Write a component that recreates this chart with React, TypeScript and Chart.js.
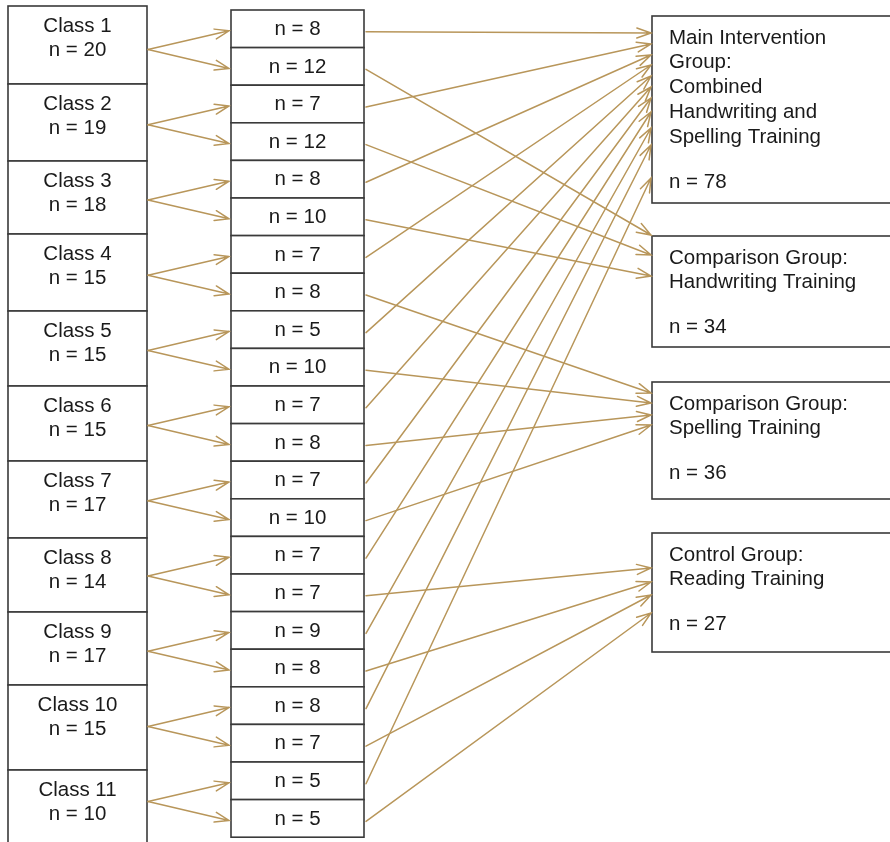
import React, { useEffect, useRef } from 'react';
import { Chart, registerables } from 'chart.js';

Chart.register(...registerables);

// ---------- data ----------
const classLabels = ['Class 1', 'Class 2', 'Class 3', 'Class 4', 'Class 5', 'Class 6', 'Class 7', 'Class 8', 'Class 9', 'Class 10', 'Class 11'];
const classSizes = [20, 19, 18, 15, 15, 15, 17, 14, 17, 15, 10];
const subgroupSizes = [8, 12, 7, 12, 8, 10, 7, 8, 5, 10, 7, 8, 7, 10, 7, 7, 9, 8, 8, 7, 5, 5];
const subgroupTarget = [0, 1, 0, 1, 0, 1, 0, 2, 0, 2, 0, 2, 0, 2, 0, 3, 0, 3, 0, 3, 0, 3];
const groupTitles = [
  ['Main Intervention', 'Group:', 'Combined', 'Handwriting and', 'Spelling Training'],
  ['Comparison Group:', 'Handwriting Training'],
  ['Comparison Group:', 'Spelling Training'],
  ['Control Group:', 'Reading Training'],
];
const groupSizes = [78, 34, 36, 27];

// ---------- layout (reference pixel units) ----------
const W = 890;
const H = 842;
const LEFT_X0 = 8;
const LEFT_X1 = 147;
const classEdges = [6, 84, 161, 234, 311, 386, 461, 538, 612, 685, 770, 850];
const MID_X0 = 231;
const MID_X1 = 364;
const MID_TOP = 10;
const MID_ROW = 37.6;
const RIGHT_X0 = 652;
const RIGHT_X1 = 900;
const groupBoxes = [[16, 203], [236, 347], [382, 499], [533, 652]];
const groupArrowY = [
  [33, 44, 55, 65, 76, 87, 98, 112, 128, 145, 178],
  [235, 255, 276],
  [393, 403, 415, 425],
  [568, 582, 595, 613],
];

const ARROW = '#b8965a';
const BORDER = '#3a3a3a';
const TEXT = '#1a1a1a';
const FONT = '20.5px "Liberation Sans", Arial, sans-serif';

const diagramPlugin = {
  id: 'diagram',
  afterDraw(chart: any) {
    const ctx: CanvasRenderingContext2D = chart.ctx;
    const xs = chart.scales.x;
    const ys = chart.scales.y;
    const px = (v: number) => xs.getPixelForValue(v);
    const py = (v: number) => ys.getPixelForValue(v);

    const box = (x0: number, y0: number, x1: number, y1: number) => {
      ctx.save();
      ctx.fillStyle = '#ffffff';
      ctx.fillRect(px(x0), py(y0), px(x1) - px(x0), py(y1) - py(y0));
      ctx.strokeStyle = BORDER;
      ctx.lineWidth = 1.6;
      ctx.strokeRect(px(x0), py(y0), px(x1) - px(x0), py(y1) - py(y0));
      ctx.restore();
    };

    const arrow = (x1: number, y1: number, x2: number, y2: number) => {
      const X1 = px(x1), Y1 = py(y1), X2 = px(x2), Y2 = py(y2);
      const ang = Math.atan2(Y2 - Y1, X2 - X1);
      const len = 15;
      const spread = 0.34;
      ctx.save();
      ctx.strokeStyle = ARROW;
      ctx.lineWidth = 1.5;
      ctx.lineCap = 'round';
      ctx.beginPath();
      ctx.moveTo(X1, Y1);
      ctx.lineTo(X2, Y2);
      ctx.moveTo(X2 - len * Math.cos(ang - spread), Y2 - len * Math.sin(ang - spread));
      ctx.lineTo(X2, Y2);
      ctx.lineTo(X2 - len * Math.cos(ang + spread), Y2 - len * Math.sin(ang + spread));
      ctx.stroke();
      ctx.restore();
    };

    const rowCenter = (i: number) => MID_TOP + MID_ROW * (i + 0.5);

    // left class boxes
    classLabels.forEach((lab, i) => {
      const top = classEdges[i];
      box(LEFT_X0, top, LEFT_X1, classEdges[i + 1]);
      ctx.save();
      ctx.fillStyle = TEXT;
      ctx.font = FONT;
      ctx.textAlign = 'center';
      ctx.textBaseline = 'middle';
      const cx = px((LEFT_X0 + LEFT_X1) / 2);
      ctx.fillText(lab, cx, py(top + 20));
      ctx.fillText('n = ' + classSizes[i], cx, py(top + 44));
      ctx.restore();
    });

    // middle subgroup boxes
    subgroupSizes.forEach((n, i) => {
      const top = MID_TOP + MID_ROW * i;
      box(MID_X0, top, MID_X1, top + MID_ROW);
      ctx.save();
      ctx.fillStyle = TEXT;
      ctx.font = FONT;
      ctx.textAlign = 'center';
      ctx.textBaseline = 'middle';
      ctx.fillText('n = ' + n, px((MID_X0 + MID_X1) / 2), py(rowCenter(i) + 0.5));
      ctx.restore();
    });

    // right group boxes
    groupTitles.forEach((lines, g) => {
      const [top, bottom] = groupBoxes[g];
      box(RIGHT_X0, top, RIGHT_X1, bottom);
      ctx.save();
      ctx.fillStyle = TEXT;
      ctx.font = FONT;
      ctx.textAlign = 'left';
      ctx.textBaseline = 'middle';
      let y = top + 22;
      lines.forEach((l, k) => {
        ctx.fillText(l, px(669), py(y + k * 24.8));
      });
      y = y + (lines.length - 1) * 24.8 + 45;
      ctx.fillText('n = ' + groupSizes[g], px(669), py(y));
      ctx.restore();
    });

    // class -> subgroup arrows
    classLabels.forEach((_, i) => {
      const a = 2 * i, b = 2 * i + 1;
      const sy = (rowCenter(a) + rowCenter(b)) / 2 + 2;
      arrow(LEFT_X1 + 1, sy, MID_X0 - 2, rowCenter(a) + 2);
      arrow(LEFT_X1 + 1, sy, MID_X0 - 2, rowCenter(b) + 2);
    });

    // subgroup -> group arrows
    const used = [0, 0, 0, 0];
    subgroupTarget.forEach((g, i) => {
      const ty = groupArrowY[g][used[g]++];
      arrow(MID_X1 + 2, rowCenter(i) + 3, RIGHT_X0 - 1, ty);
    });
  },
};

export default function App() {
  const ref = useRef<HTMLCanvasElement | null>(null);
  useEffect(() => {
    if (!ref.current) return;
    const chart = new Chart(ref.current, {
      type: 'scatter',
      data: { datasets: [{ data: [], pointRadius: 0 }] },
      options: {
        animation: false,
        responsive: true,
        maintainAspectRatio: false,
        layout: { padding: 0 },
        plugins: { legend: { display: false }, tooltip: { enabled: false } },
        events: [],
        scales: {
          x: { type: 'linear', min: 0, max: W, display: false },
          y: { type: 'linear', min: 0, max: H, reverse: true, display: false },
        },
      },
      plugins: [diagramPlugin],
    });
    return () => chart.destroy();
  }, []);
  return (
    <div style={{ position: 'absolute', left: 0, top: 0, width: W, height: H, background: '#ffffff' }}>
      <canvas ref={ref} />
    </div>
  );
}
